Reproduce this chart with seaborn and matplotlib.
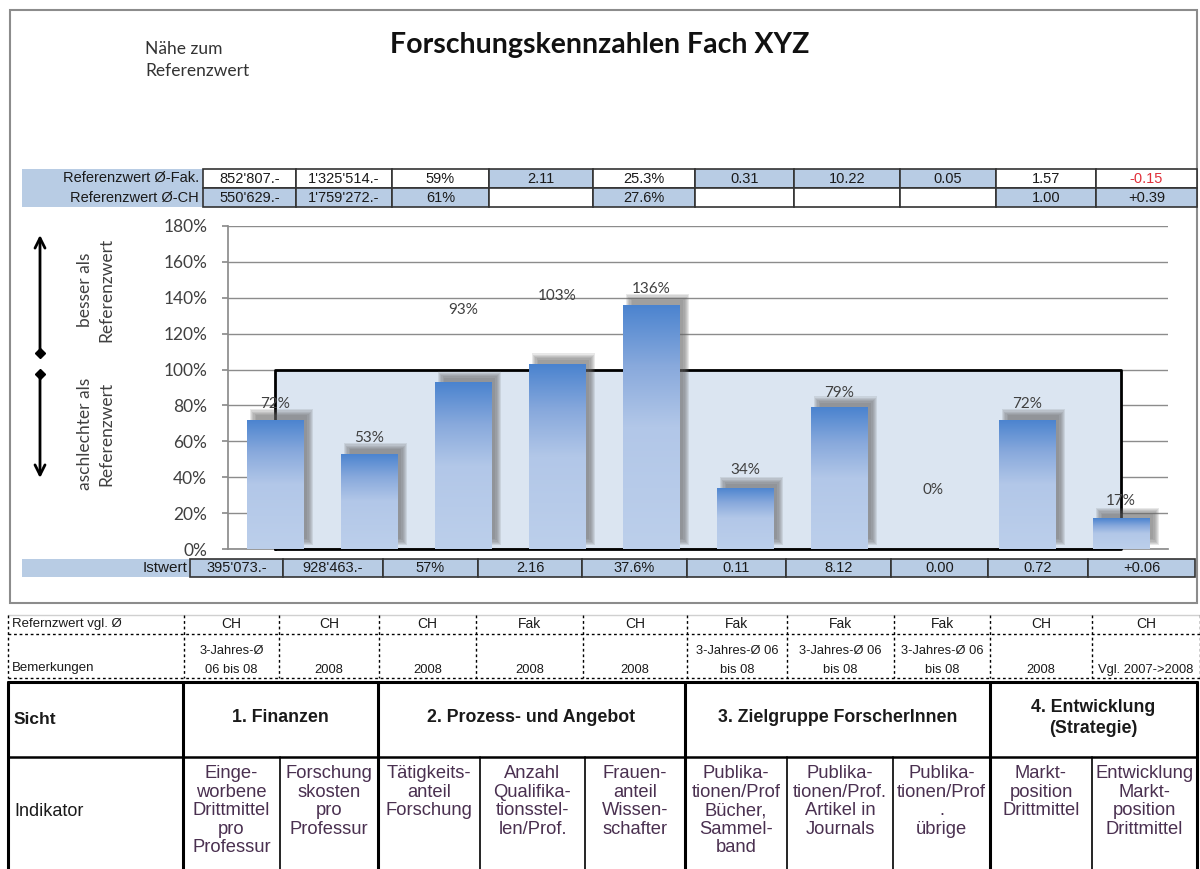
import numpy as np
import pandas as pd
import matplotlib
matplotlib.use("Agg")
import matplotlib.pyplot as plt
import seaborn as sns
from matplotlib.patches import Rectangle
from matplotlib.colors import LinearSegmentedColormap

# ---------------- data ----------------
indicators = ["Drittmittel", "Forschungskosten", "Tätigkeitsanteil", "Qualifikationsstellen",
              "Frauenanteil", "Publ. Bücher", "Publ. Artikel", "Publ. übrige",
              "Marktposition", "Entwicklung Marktposition"]
values = [72, 53, 93, 103, 136, 34, 79, 0, 72, 17]
reference = [100, 100, 100, 100, 100, 100, 100, 100, 100, 100]
yticks = [0, 20, 40, 60, 80, 100, 120, 140, 160, 180]

ref_fak = ["852'807.-", "1'325'514.-", "59%", "2.11", "25.3%", "0.31", "10.22", "0.05", "1.57", "-0.15"]
ref_ch = ["550'629.-", "1'759'272.-", "61%", "", "27.6%", "", "", "", "1.00", "+0.39"]
istwert = ["395'073.-", "928'463.-", "57%", "2.16", "37.6%", "0.11", "8.12", "0.00", "0.72", "+0.06"]
vergleich = ["CH", "CH", "CH", "Fak", "CH", "Fak", "Fak", "Fak", "CH", "CH"]
bemerkungen = ["3-Jahres-Ø\n06 bis 08", "2008", "2008", "2008", "2008",
               "3-Jahres-Ø 06\nbis 08", "3-Jahres-Ø 06\nbis 08", "3-Jahres-Ø 06\nbis 08",
               "2008", "Vgl. 2007->2008"]
sichten = ["1. Finanzen", "2. Prozess- und Angebot", "3. Zielgruppe ForscherInnen",
           "4. Entwicklung\n(Strategie)"]
indikator_text = ["Einge-\nworbene\nDrittmittel\npro\nProfessur",
                  "Forschung\nskosten\npro\nProfessur",
                  "Tätigkeits-\nanteil\nForschung",
                  "Anzahl\nQualifika-\ntionsstel-\nlen/Prof.",
                  "Frauen-\nanteil\nWissen-\nschafter",
                  "Publika-\ntionen/Prof\nBücher,\nSammel-\nband",
                  "Publika-\ntionen/Prof.\nArtikel in\nJournals",
                  "Publika-\ntionen/Prof\n.\nübrige",
                  "Markt-\nposition\nDrittmittel",
                  "Entwicklung\nMarkt-\nposition\nDrittmittel"]

# ---------------- layout / style ----------------
fak_fill = [0, 0, 0, 1, 0, 1, 1, 1, 0, 0]
ch_fill = [1, 1, 1, 0, 1, 0, 0, 0, 1, 1]
label_y = [81, 62, 133, 141, 145, 44, 87, 33, 81, 27]
BLUE = "#b8cce4"
TXT = "#1a1a1a"
AR = "Liberation Sans"
CAL = "Lato"

sns.set_theme(style="white")
plt.rcParams["font.family"] = ["Liberation Sans", "DejaVu Sans"]

fig = plt.figure(figsize=(12, 8.69), dpi=100)
bg = fig.add_axes([0, 0, 1, 1])
bg.set_xlim(0, 1200)
bg.set_ylim(869, 0)
bg.axis("off")


def box(x0, y0, x1, y1, fc="none", ec="none", lw=1.0, ls="-", z=1):
    bg.add_patch(Rectangle((x0, y0), x1 - x0, y1 - y0, facecolor=fc, edgecolor=ec,
                           lw=lw, linestyle=ls, zorder=z))


# chart frame
box(10, 10, 1197, 603, ec="#8c8c8c", lw=1.5)

# title texts
bg.text(600, 45, "Forschungskennzahlen Fach XYZ", ha="center", va="center",
        fontsize=20.5, fontweight="bold", family=CAL, color="#111111")
bg.text(145, 60, "Nähe zum\nReferenzwert", ha="left", va="center", fontsize=12.5,
        family=CAL, color="#333333", linespacing=1.45)

# top reference table
cols_top = [203, 296, 392, 489, 593, 695, 794, 900, 996, 1096, 1197]
rt = [169, 188, 207]
box(22, rt[0], cols_top[0], rt[2], fc=BLUE)
bg.text(199, (rt[0] + rt[1]) / 2, "Referenzwert Ø-Fak.", ha="right", va="center", fontsize=10.5, color=TXT, family=AR)
bg.text(199, (rt[1] + rt[2]) / 2, "Referenzwert Ø-CH", ha="right", va="center", fontsize=10.5, color=TXT, family=AR)
for i in range(10):
    x0, x1 = cols_top[i], cols_top[i + 1]
    box(x0, rt[0], x1, rt[1], fc=BLUE if fak_fill[i] else "white", ec="#333333", lw=1.2)
    box(x0, rt[1], x1, rt[2], fc=BLUE if ch_fill[i] else "white", ec="#333333", lw=1.2)
    bg.text((x0 + x1) / 2, (rt[0] + rt[1]) / 2 + 0.5, ref_fak[i], ha="center", va="center", fontsize=10.5,
            family=AR, color="#e0303a" if ref_fak[i].startswith("-") else TXT, zorder=3)
    bg.text((x0 + x1) / 2, (rt[1] + rt[2]) / 2 + 0.5, ref_ch[i], ha="center", va="center", fontsize=10.5,
            family=AR, color=TXT, zorder=3)

# Istwert row
cols_ist = [190, 283, 383, 478, 582, 687, 786, 891, 988, 1088, 1195]
ri = [559, 577]
box(22, ri[0], cols_ist[0], ri[1], fc=BLUE)
bg.text(187, (ri[0] + ri[1]) / 2, "Istwert", ha="right", va="center", fontsize=11, family=AR, color=TXT)
for i in range(10):
    x0, x1 = cols_ist[i], cols_ist[i + 1]
    box(x0, ri[0], x1, ri[1], fc=BLUE, ec="#333333", lw=1.2)
    bg.text((x0 + x1) / 2, (ri[0] + ri[1]) / 2 + 0.5, istwert[i], ha="center", va="center",
            fontsize=10.5, family=AR, color=TXT, zorder=3)

# left annotations
bg.annotate("", xy=(40, 235), xytext=(40, 353),
            arrowprops=dict(arrowstyle="->", lw=2, color="black", mutation_scale=18, shrinkA=0, shrinkB=0))
bg.plot([40], [353], marker="D", ms=5, color="black")
bg.annotate("", xy=(40, 478), xytext=(40, 374),
            arrowprops=dict(arrowstyle="->", lw=2, color="black", mutation_scale=18, shrinkA=0, shrinkB=0))
bg.plot([40], [374], marker="D", ms=5, color="black")
bg.text(96, 290, "besser als\nReferenzwert", rotation=90, ha="center", va="center",
        fontsize=12.5, family=CAL, color="#404040", linespacing=1.4)
bg.text(96, 434, "aschlechter als\nReferenzwert", rotation=90, ha="center", va="center",
        fontsize=12.5, family=CAL, color="#404040", linespacing=1.4)

# dotted table
cols_dot = [184, 279, 379, 476, 583, 687, 787, 894, 990, 1092, 1200]
rd = [615, 634, 678]
bg.plot([8, 1200], [rd[0], rd[0]], color="#d0d0d0", lw=1)
for yy in rd[1:]:
    bg.plot([8, 1200], [yy, yy], color="black", lw=1, ls=(0, (2, 2)))
for xx in [8] + cols_dot:
    bg.plot([xx, xx], [rd[0], rd[2]], color="black", lw=1, ls=(0, (2, 2)))
bg.text(12, (rd[0] + rd[1]) / 2, "Refernzwert vgl. Ø", ha="left", va="center", fontsize=9.5, family=AR, color=TXT)
bg.text(12, 668, "Bemerkungen", ha="left", va="center", fontsize=9.5, family=AR, color=TXT)
for i in range(10):
    cx = (cols_dot[i] + cols_dot[i + 1]) / 2
    bg.text(cx, (rd[0] + rd[1]) / 2, vergleich[i], ha="center", va="center", fontsize=10, family=AR, color=TXT)
    bg.text(cx, 676, bemerkungen[i], ha="center", va="bottom", fontsize=9.3, family=AR, color=TXT,
            linespacing=1.75)

# lower solid table
cols_low = [183, 280, 378, 480, 585, 685, 787, 893, 990, 1092, 1197]
thick = [0, 2, 5, 8, 10]
rl = [682, 757, 869]
bg.plot([8, 1197], [rl[0], rl[0]], color="black", lw=2.2)
bg.plot([8, 1197], [rl[1], rl[1]], color="black", lw=1.8)
bg.plot([8, 8], [rl[0], rl[2]], color="black", lw=2.2)
for j, xx in enumerate(cols_low):
    if j in thick:
        bg.plot([xx, xx], [rl[0], rl[2]], color="black", lw=2.2)
    else:
        bg.plot([xx, xx], [rl[1], rl[2]], color="black", lw=1.2)
bg.text(14, 719, "Sicht", ha="left", va="center", fontsize=12.5, fontweight="bold", family=AR, color=TXT)
bg.text(14, 812, "Indikator", ha="left", va="center", fontsize=13, family=AR, color=TXT)
for k, s in enumerate(sichten):
    cx = (cols_low[thick[k]] + cols_low[thick[k + 1]]) / 2
    bg.text(cx, 718, s, ha="center", va="center", fontsize=12.8, fontweight="bold", family=AR,
            color=TXT, linespacing=1.25)
for i in range(10):
    cx = (cols_low[i] + cols_low[i + 1]) / 2
    bg.text(cx, 765, indikator_text[i], ha="center", va="top", fontsize=13.2, family=AR,
            color="#4a3050", linespacing=1.12)

# ---------------- main chart ----------------
ax = fig.add_axes([228 / 1200, (869 - 549) / 869, 940 / 1200, 323 / 869])
ax.patch.set_alpha(0)
df = pd.DataFrame({"Indikator": indicators, "Wert": values})
sns.barplot(data=df, x="Indikator", y="Wert", ax=ax, width=0.6, color="#4f81bd", saturation=1)

xpos = np.arange(len(reference))
ax.fill_between(xpos, 0, reference, color="#dbe5f1", zorder=2, lw=0)
xs = [xpos[0]] + list(xpos) + [xpos[-1], xpos[0]]
ys = [0] + list(reference) + [0, 0]
ax.plot(xs, ys, color="black", lw=2, zorder=3, clip_on=False)

cmap = LinearSegmentedColormap.from_list("bar", [(0, "#bccfeb"), (0.5, "#b2c7e8"),
                                                 (0.75, "#88a9dc"), (1, "#4a83cf")])
grad = np.linspace(0, 1, 256).reshape(-1, 1)
for p in list(ax.patches):
    x0, w, h = p.get_x(), p.get_width(), p.get_height()
    p.set_facecolor("none")
    p.set_edgecolor("none")
    if h <= 0:
        continue
    for k in range(6):
        sx, sy = 0.012 * k, 0.7 * k
        ax.add_patch(Rectangle((x0 + 0.07 - 0.035 + sx, 4 - 2 + sy), w + 0.07 - 2 * sx, h + 4 - 2 * sy,
                               facecolor="#666666", edgecolor="none", alpha=0.15, zorder=4))
    im = ax.imshow(grad, cmap=cmap, origin="lower", aspect="auto",
                   extent=(x0, x0 + w, 0, h), zorder=5)
    im.set_clip_path(p)
    p.set_zorder(5)

for i, (v, ly) in enumerate(zip(values, label_y)):
    ax.text(i, ly, f"{v}%", ha="center", va="center", fontsize=11, family=CAL,
            color="#404040", zorder=10)

ax.set_xlim(-0.5, len(values) - 0.5)
ax.set_ylim(0, 180)
ax.set_yticks(yticks)
ax.set_yticklabels([f"{t}%" for t in yticks], family=CAL, fontsize=12.5, color="#404040")
ax.set_xticks([])
ax.set_xlabel("")
ax.set_ylabel("")
ax.yaxis.grid(True, color="#8c8c8c", lw=1)
ax.set_axisbelow(True)
ax.tick_params(axis="y", which="major", length=4, color="#8c8c8c", left=True, pad=11)
for s in ["top", "right"]:
    ax.spines[s].set_visible(False)
ax.spines["left"].set_color("#8c8c8c")
ax.spines["bottom"].set_color("#8c8c8c")

fig.savefig("out.png", dpi=100)
